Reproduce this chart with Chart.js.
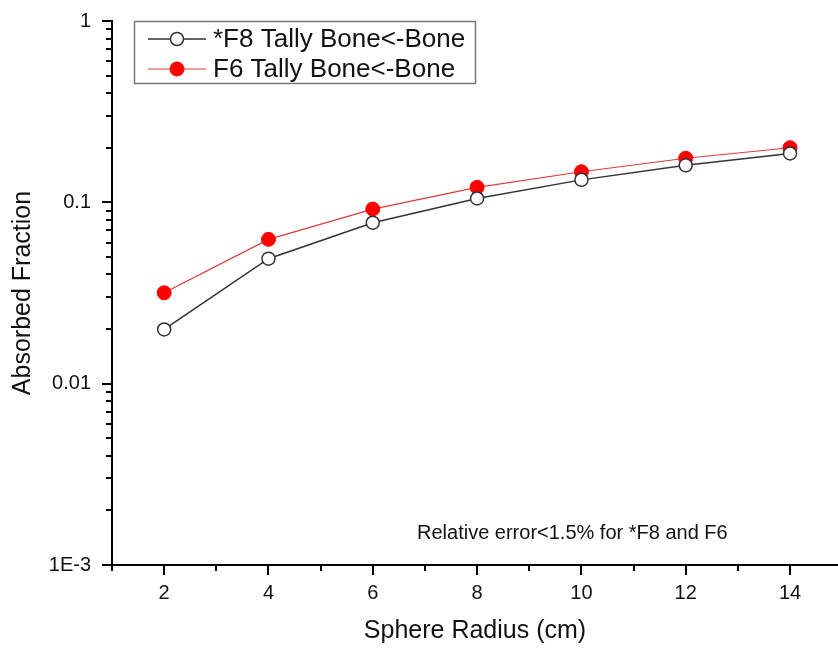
<!DOCTYPE html>
<html>
<head>
<meta charset="utf-8">
<script src="https://cdn.jsdelivr.net/npm/chart.js@4.4.0/dist/chart.umd.min.js"></script>
<style>
  html, body { margin: 0; padding: 0; background: #fff; overflow: hidden; }
</style>
</head>
<body>
<canvas id="chart" width="838" height="649"></canvas>
<script>
// data
const radius = [2, 4, 6, 8, 10, 12, 14];
const f8Values = [0.0199, 0.0489, 0.0772, 0.105, 0.133, 0.160, 0.186];
const f6Values = [0.0317, 0.0625, 0.0918, 0.121, 0.1475, 0.175, 0.200];
const xTicks = [1, 2, 3, 4, 5, 6, 7, 8, 9, 10, 11, 12, 13, 14];
const xLabelled = [2, 4, 6, 8, 10, 12, 14];
const yTicks = [0.001, 0.01, 0.1, 1];
const yTickLabels = ['1E-3', '0.01', '0.1', '1'];
const seriesNames = ['*F8 Tally Bone<-Bone', 'F6 Tally Bone<-Bone'];
const noteText = 'Relative error<1.5% for *F8 and F6';

const FONT = "'Liberation Sans', Arial, sans-serif";
const INK = '#111';

// major / minor tick marks, like the origin plot
const axisTicks = {
  id: 'axisTicks',
  afterDraw(chart) {
    const ctx = chart.ctx;
    const xs = chart.scales.x, ys = chart.scales.y;
    const x0 = ys.right, y0 = xs.top;
    ctx.save();
    ctx.strokeStyle = '#000';
    ctx.lineWidth = 2;
    ctx.beginPath();
    xTicks.forEach(v => {
      const px = Math.round(xs.getPixelForValue(v));
      const len = xLabelled.includes(v) ? 10 : 6;
      ctx.moveTo(px, y0);
      ctx.lineTo(px, y0 + len);
    });
    for (let k = -3; k <= 0; k++) {
      const py = Math.round(ys.getPixelForValue(Math.pow(10, k)));
      ctx.moveTo(x0, py);
      ctx.lineTo(x0 - 10, py);
      if (k < 0) {
        for (let m = 2; m <= 9; m++) {
          const pm = Math.round(ys.getPixelForValue(m * Math.pow(10, k)));
          ctx.moveTo(x0, pm);
          ctx.lineTo(x0 - 6, pm);
        }
      }
    }
    ctx.stroke();
    ctx.restore();
  }
};

// boxed legend with line + marker samples, and the note text
const boxLegend = {
  id: 'boxLegend',
  afterDraw(chart) {
    const ctx = chart.ctx;
    const area = chart.chartArea;
    const bx = area.left + 22, by = area.top, bw = 341, bh = 62;
    ctx.save();
    ctx.fillStyle = '#fff';
    ctx.fillRect(bx, by, bw, bh);
    ctx.strokeStyle = '#777';
    ctx.lineWidth = 1.5;
    ctx.strokeRect(bx + 0.5, by + 0.5, bw, bh);
    chart.data.datasets.forEach((ds, i) => {
      const cy = by + 18 + i * 30;
      ctx.strokeStyle = ds.borderColor;
      ctx.lineWidth = ds.borderWidth;
      ctx.beginPath();
      ctx.moveTo(bx + 14, cy);
      ctx.lineTo(bx + 72, cy);
      ctx.stroke();
      ctx.beginPath();
      ctx.arc(bx + 43, cy, ds.pointRadius, 0, Math.PI * 2);
      ctx.fillStyle = ds.pointBackgroundColor;
      ctx.fill();
      ctx.lineWidth = ds.pointBorderWidth;
      ctx.strokeStyle = ds.pointBorderColor;
      ctx.stroke();
      ctx.fillStyle = INK;
      ctx.font = '26px ' + FONT;
      ctx.textBaseline = 'middle';
      ctx.textAlign = 'left';
      ctx.fillText(ds.label, bx + 79, cy + 1);
    });
    ctx.font = '20px ' + FONT;
    ctx.fillStyle = INK;
    ctx.textBaseline = 'middle';
    ctx.fillText(noteText, area.left + 305, area.bottom - 32);
    ctx.restore();
  }
};

new Chart(document.getElementById('chart'), {
  type: 'line',
  data: {
    datasets: [{
      label: seriesNames[0],
      data: radius.map((r, i) => ({ x: r, y: f8Values[i] })),
      borderColor: '#333',
      borderWidth: 1.5,
      pointRadius: 6.5,
      pointBackgroundColor: '#fff',
      pointBorderColor: '#333',
      pointBorderWidth: 1.5,
      tension: 0
    }, {
      label: seriesNames[1],
      data: radius.map((r, i) => ({ x: r, y: f6Values[i] })),
      borderColor: '#e03a3a',
      borderWidth: 1.2,
      pointRadius: 7,
      pointBackgroundColor: '#ff0000',
      pointBorderColor: '#ff0000',
      pointBorderWidth: 1,
      tension: 0
    }]
  },
  options: {
    responsive: false,
    animation: false,
    events: [],
    layout: { autoPadding: false, padding: { top: 21, left: 0, right: 0, bottom: 0 } },
    plugins: {
      legend: { display: false },
      tooltip: { enabled: false }
    },
    scales: {
      x: {
        type: 'linear',
        min: 1,
        max: 14.92,
        afterBuildTicks: s => { s.ticks = xTicks.map(v => ({ value: v })); },
        afterFit: s => { s.height = 84; s.paddingLeft = 0; s.paddingRight = 0; },
        grid: { display: false, drawTicks: false },
        border: { display: true, color: '#000', width: 2 },
        ticks: {
          autoSkip: false,
          maxRotation: 0,
          padding: 16,
          color: INK,
          font: { family: FONT, size: 20 },
          callback: v => xLabelled.includes(v) ? String(v) : ''
        },
        title: {
          display: true,
          text: 'Sphere Radius (cm)',
          color: INK,
          font: { family: FONT, size: 25 },
          padding: { top: 0, bottom: 3 }
        }
      },
      y: {
        type: 'logarithmic',
        min: 0.001,
        max: 1,
        afterBuildTicks: s => { s.ticks = yTicks.map(v => ({ value: v })); },
        afterFit: s => { s.width = 112; s.paddingTop = 0; s.paddingBottom = 0; },
        grid: { display: false, drawTicks: false },
        border: { display: true, color: '#000', width: 2 },
        ticks: {
          autoSkip: false,
          padding: 21,
          color: INK,
          font: { family: FONT, size: 20 },
          callback: v => {
            const i = yTicks.findIndex(t => Math.abs(t - v) < t * 1e-6);
            return i >= 0 ? yTickLabels[i] : '';
          }
        },
        title: {
          display: true,
          text: 'Absorbed Fraction',
          color: INK,
          font: { family: FONT, size: 25 },
          padding: { top: 8, bottom: 0 }
        }
      }
    }
  },
  plugins: [axisTicks, boxLegend]
});
</script>
</body>
</html>
